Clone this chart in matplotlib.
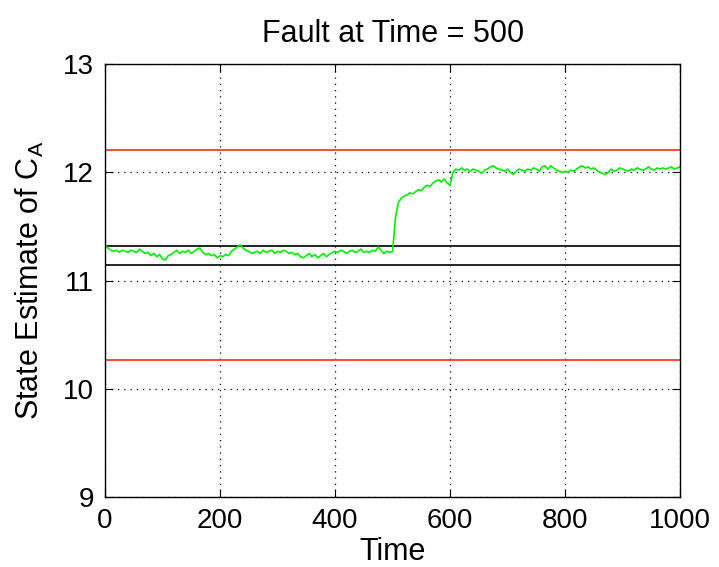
import numpy as np
import matplotlib
matplotlib.use("Agg")
import matplotlib.pyplot as plt

plt.rcParams['font.family'] = ['Liberation Sans', 'DejaVu Sans']

# time axis, one estimate every 5 steps
time = np.arange(0, 1001, 5)
estimate = [
    11.33, 11.30, 11.28, 11.27, 11.28, 11.26, 11.28, 11.27, 11.26, 11.28,
    11.27, 11.26, 11.29, 11.27, 11.25, 11.26, 11.23, 11.25, 11.22, 11.24,
    11.20, 11.19, 11.23, 11.24, 11.26, 11.28, 11.25, 11.27, 11.26, 11.28,
    11.25, 11.27, 11.29, 11.30, 11.26, 11.24, 11.25, 11.23, 11.24, 11.21,
    11.23, 11.22, 11.24, 11.23, 11.27, 11.29, 11.31, 11.33, 11.30, 11.28,
    11.27, 11.25, 11.26, 11.27, 11.25, 11.28, 11.26, 11.27, 11.28, 11.25,
    11.27, 11.26, 11.28, 11.27, 11.25, 11.26, 11.24, 11.25, 11.22, 11.21,
    11.23, 11.25, 11.22, 11.24, 11.21, 11.23, 11.25, 11.22, 11.24, 11.26,
    11.27, 11.26, 11.28, 11.27, 11.25, 11.27, 11.28, 11.26, 11.27, 11.29,
    11.26, 11.27, 11.26, 11.28, 11.27, 11.31, 11.28, 11.25, 11.27, 11.26,
    11.27, 11.58, 11.72, 11.76, 11.78, 11.79, 11.81, 11.80, 11.82, 11.84,
    11.83, 11.86, 11.88, 11.87, 11.90, 11.92, 11.93, 11.91, 11.94, 11.90,
    11.88, 12.00, 12.03, 12.02, 12.04, 12.02, 12.03, 12.01, 12.03, 12.02,
    12.01, 11.99, 12.02, 12.03, 12.05, 12.06, 12.04, 12.03, 12.02, 12.01,
    12.03, 12.00, 11.98, 12.01, 12.03, 12.02, 12.01, 12.03, 12.02, 12.04,
    12.03, 12.01, 12.05, 12.06, 12.03, 12.06, 12.04, 12.02, 12.01, 12.00,
    12.01, 12.00, 12.02, 12.01, 12.03, 12.05, 12.06, 12.04, 12.05, 12.03,
    12.04, 12.02, 12.00, 11.99, 11.98, 12.00, 12.03, 12.01, 12.02, 12.04,
    12.03, 12.02, 12.01, 12.03, 12.02, 12.04, 12.03, 12.02, 12.03, 12.05,
    12.03, 12.02, 12.04, 12.03, 12.04, 12.03, 12.04, 12.05, 12.03, 12.04,
    12.05,
]
control_limits = [12.21, 10.27]   # red
normal_band = [11.32, 11.14]      # black

xticks = [0, 200, 400, 600, 800, 1000]
yticks = [9, 10, 11, 12, 13]

fig = plt.figure(figsize=(7.19, 5.67), dpi=100)
ax = fig.add_axes([0.146, 0.1235, 0.80, 0.7635])

for v in control_limits:
    ax.axhline(v, color='#ff3b1f', lw=1.3)
for v in normal_band:
    ax.axhline(v, color='black', lw=1.2)
ax.plot(time, estimate, color='#00f000', lw=1.2)

ax.set_xlim(0, 1000)
ax.set_ylim(9, 13)
ax.set_xticks(xticks)
ax.set_yticks(yticks)
ax.grid(True, linestyle=(0, (1, 4)), color='black', lw=0.9)
ax.tick_params(direction='in', top=True, right=True, length=6, labelsize=20, pad=8)
for s in ax.spines.values():
    s.set_linewidth(1.0)

ax.set_xlabel('Time', fontsize=22, labelpad=2)
ax.set_ylabel('State Estimate of C$_\\mathregular{A}$', fontsize=22, labelpad=12)
ax.set_title('Fault at Time = 500', fontsize=22, pad=16)

fig.savefig('out.png', dpi=100)
